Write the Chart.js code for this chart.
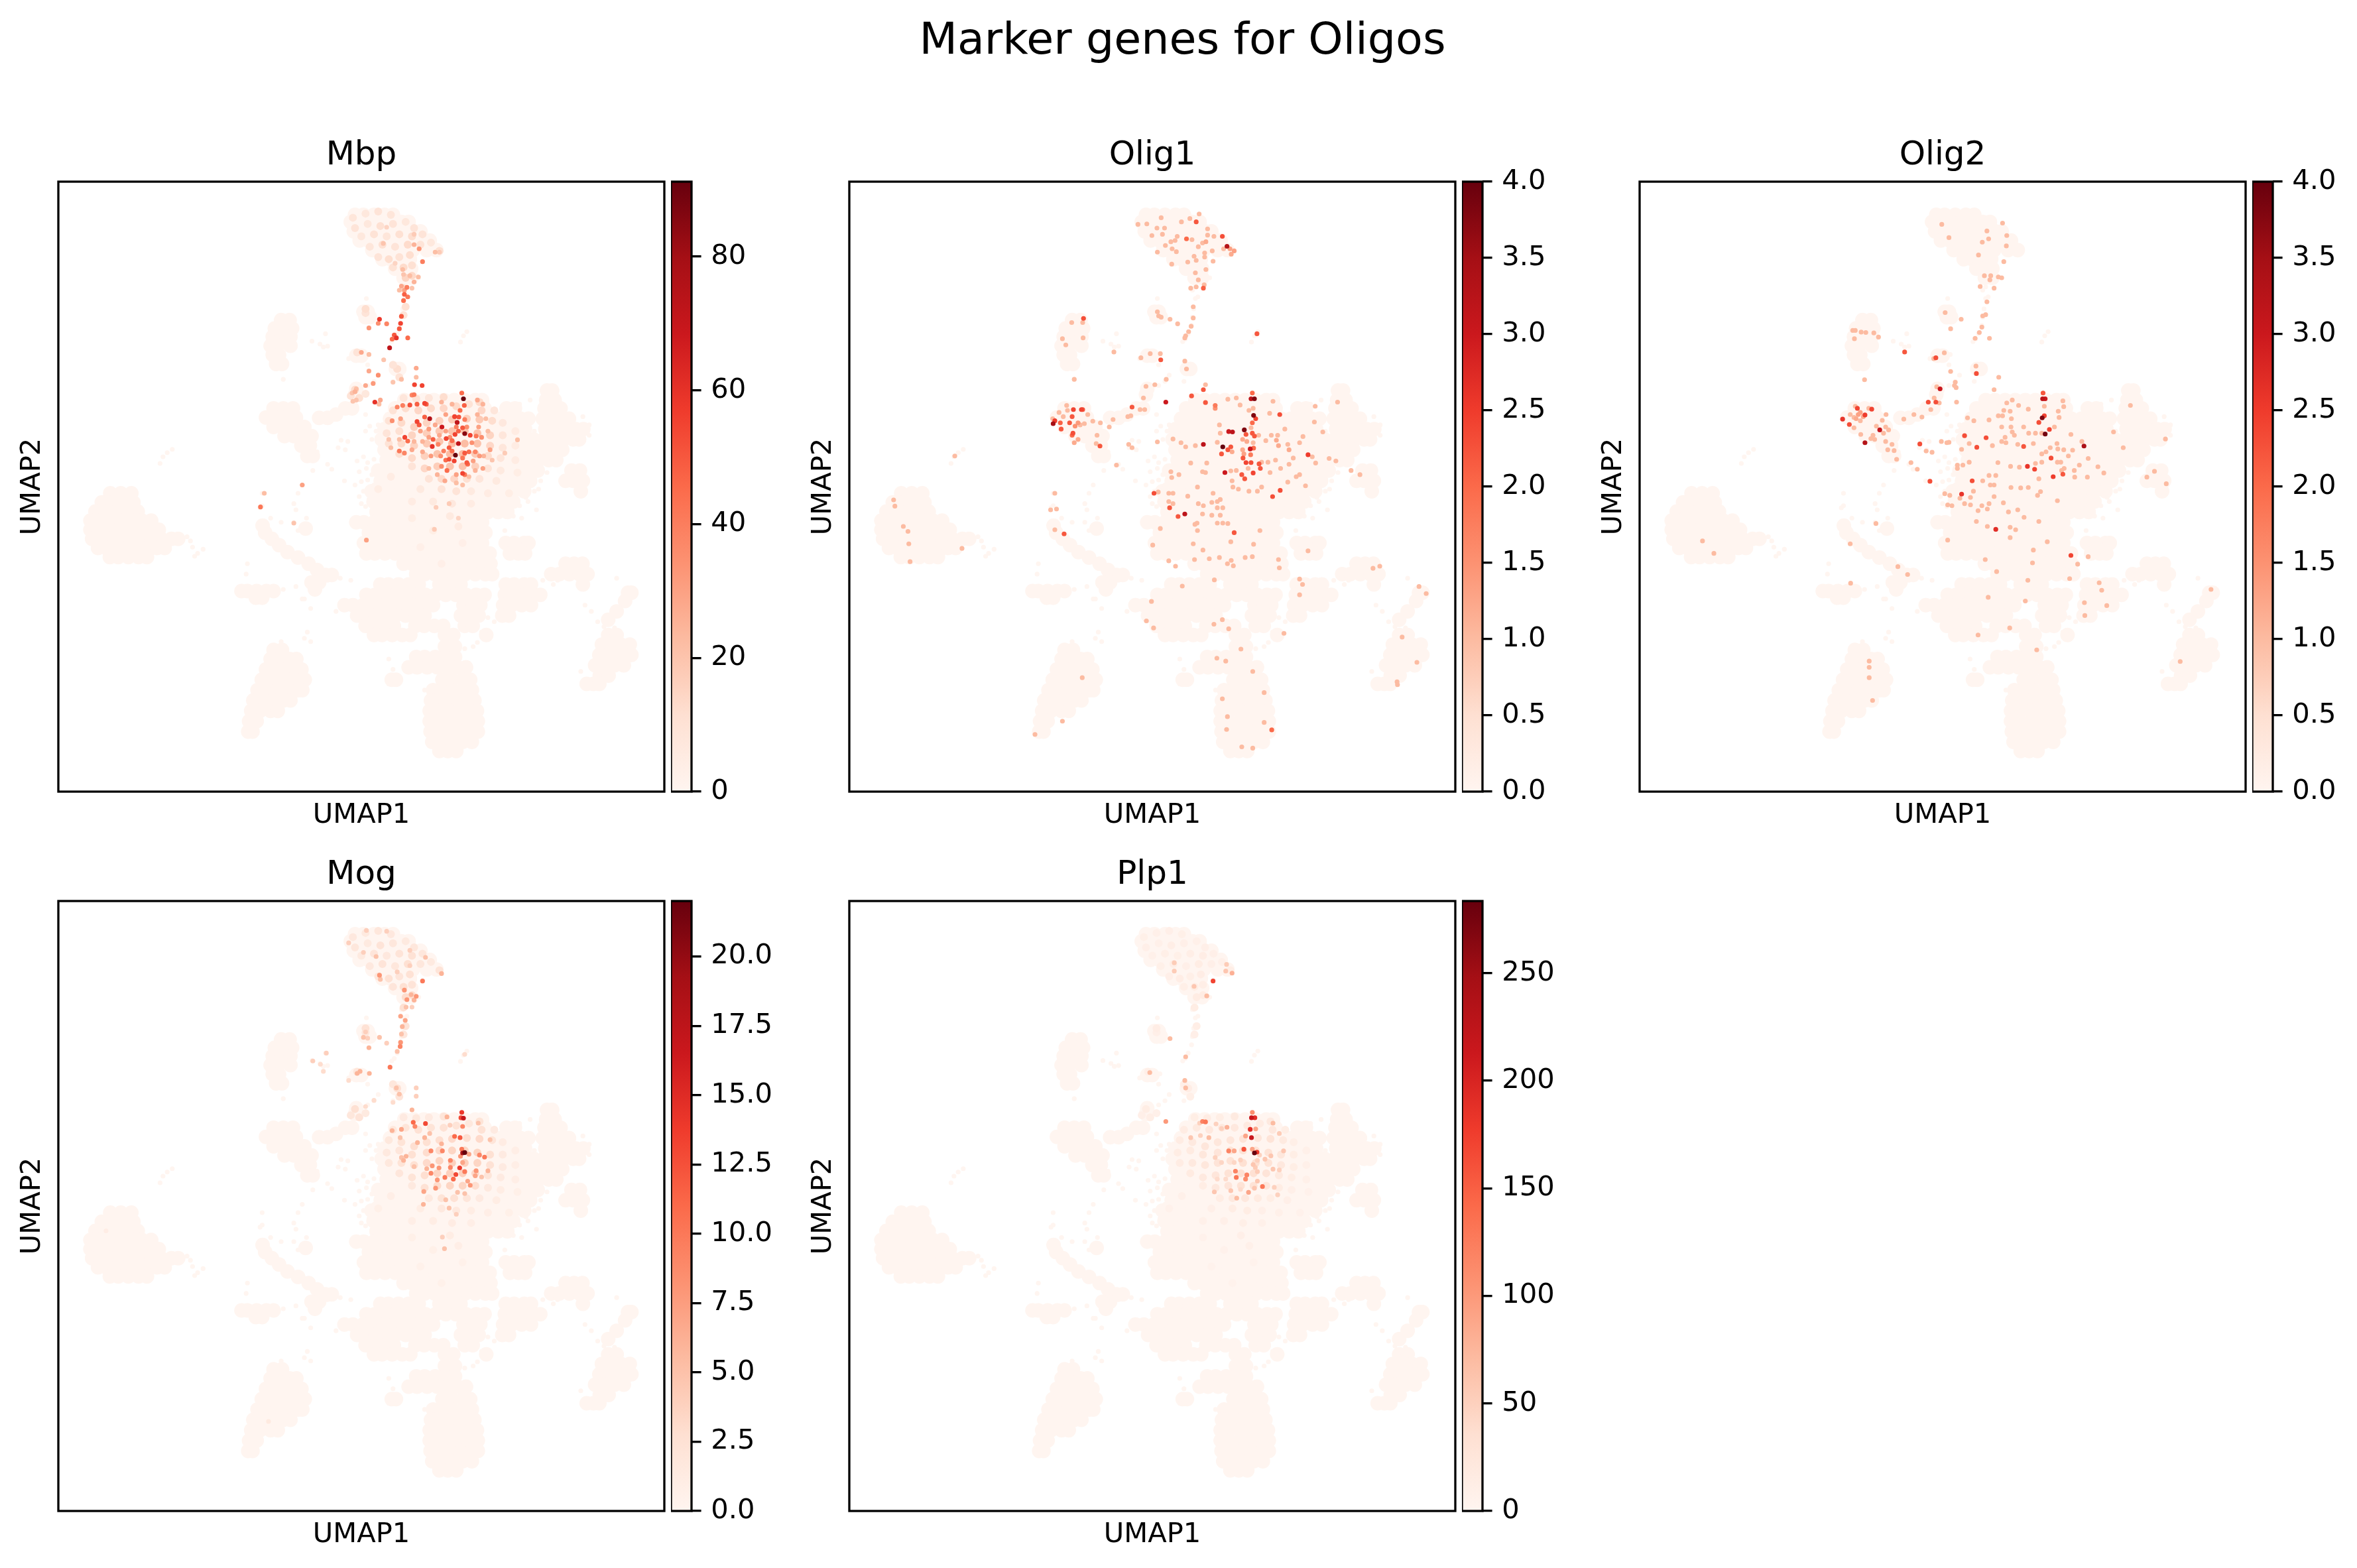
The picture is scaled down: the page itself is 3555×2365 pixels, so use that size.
<!DOCTYPE html>
<html><head><meta charset="utf-8">
<script src="https://cdn.jsdelivr.net/npm/chart.js@4"></script>
<style>html,body{margin:0;padding:0;background:#fff}canvas{position:absolute}</style>
</head><body>
<script>
const figureTitle="Marker genes for Oligos";
const geneNames=["Mbp","Olig1","Olig2","Mog","Plp1"];
const geneMax=[91.2,4,4,22,283.5];
const geneStep=[20,0.5,0.5,2.5,50];
const geneDecimals=[0,1,1,1,0];
const topGain=[1,0,0,0.85,0.35];
const coreGain=[1.1,0,0,0.8,0.55];
const xRange=[42,1478], yRange=[1510,38];
const redsStops=["#fff5f0","#fee0d2","#fcbba1","#fc9272","#fb6a4a","#ef3b2c","#cb181d","#a50f15","#67000d"];

// Broad cell population: [umap2,[umap1...]]
const cloudRows=[
[790,[165,190,215]],[812,[145,170,195,220]],[834,[130,155,180,205,230]],[856,[118,142,168,192,216,240,262]],[878,[118,136,160,184,208,232,256,280]],[900,[122,142,166,190,214,238,262,286,310,326]],[922,[136,156,180,204,228,252,276,294]],[944,[164,184,208,232,252]],
[372,[570,590]],[392,[555,580,596]],[412,[550,570,592]],[434,[545,562,592]],[456,[550,565]],[478,[558,572]],
[352,[765,775]],[365,[770,780]],
[118,[745,765,790,815,835]],[135,[735,755,780,805,830,855,872]],[158,[742,762,787,812,837,862,885,900]],[180,[756,777,802,827,852,877,902,922]],[203,[786,807,832,857,882,915,938]],[225,[810,830,855,875]],[248,[840,860,878]],[270,[860,878]],
[585,[552,575,598]],[607,[534,555,580,605]],[630,[552,575,600,625]],[652,[578,600,625,642]],[675,[618,638]],[700,[632,645]],
[542,[1200,1212]],
[565,[862,884,908,932,956,980,1004,1030,1046,1198,1218]],
[585,[840,860,884,908,932,956,980,1004,1028,1052,1104,1124,1194,1214,1232]],
[610,[828,849,873,897,921,945,969,993,1017,1041,1065,1089,1113,1137,1156,1190,1210,1234,1252]],
[635,[815,836,860,884,908,932,956,980,1004,1028,1052,1076,1100,1124,1148,1196,1220,1244,1268,1286]],
[660,[808,832,856,880,904,928,952,976,1000,1024,1048,1072,1096,1120,1144,1168,1192,1216,1240,1262,1276]],
[685,[815,839,863,887,911,935,959,983,1007,1031,1055,1079,1103,1127,1151,1175,1199,1223,1236]],
[710,[820,844,868,892,916,940,964,988,1012,1036,1060,1084,1108,1132,1156,1180,1204,1222]],
[735,[800,824,848,872,896,920,944,968,992,1016,1040,1064,1088,1112,1136,1160,1178,1258,1278]],
[760,[806,830,854,878,902,926,950,974,998,1022,1046,1070,1094,1118,1142,1160,1244,1262,1285]],
[785,[784,808,832,856,880,904,928,952,976,1000,1024,1048,1072,1096,1120,1146,1280]],
[810,[789,813,837,861,885,909,933,957,981,1005,1029,1053,1077,1101,1120]],
[835,[796,820,844,868,892,916,940,964,988,1012,1036,1060,1084,1106]],
[860,[748,766,790,814,838,862,886,910,934,958,982,1006,1030,1046]],
[885,[778,802,826,850,874,898,922,946,970,994,1018,1042,1054]],
[910,[766,786,810,834,858,882,906,930,954,978,1002,1026,1046,1102,1122,1146,1156]],
[935,[772,792,816,840,864,888,912,936,960,984,1008,1032,1056,1064,1112,1132,1148]],
[960,[860,880,904,928,952,976,1000,1024,1048,1066,1244,1264,1284]],
[985,[890,910,934,958,982,1006,1030,1054,1070,1210,1229,1253,1277,1296]],
[1010,[805,824,848,872,896,945,970,995,1102,1122,1146,1162,1285]],
[1035,[772,792,816,840,864,888,912,936,960,984,1008,1032,1052,1100,1120,1144,1168,1184]],
[1060,[720,740,764,788,812,836,860,884,908,930,1002,1024,1042,1096,1116,1140,1162]],
[1085,[750,769,793,817,841,865,889,910,996,1018,1038,1094,1110]],
[1110,[770,789,813,837,888,909,933,954,1005,1024]],
[1132,[790,809,833,857,876,958,978,1056]],
[1160,[958,982]],[1185,[890,910,935,960,982]],[1210,[872,892,916,940,964,988,1008]],[1240,[832,842,952,975,1000,1018]],
[1265,[930,950,975,1000,1022]],[1290,[925,945,970,995,1020,1028]],[1315,[922,943,968,993,1018,1034]],[1340,[922,943,968,993,1018,1036]],[1365,[924,945,970,995,1020,1036]],[1390,[928,950,975,1000,1022]],[1412,[945,965,985]],
[1168,[552,572]],[1190,[545,565,590,606]],[1215,[534,555,580,605,618]],[1240,[524,545,570,595,620,626]],[1265,[514,535,560,585,610,620]],[1290,[504,525,550,575,592]],[1315,[499,520,545,562]],[1340,[494,512]],[1365,[492,502]],
[1030,[1392,1400]],[1050,[1385]],[1075,[1365]],[1095,[1345]],[1132,[1345,1365]],[1155,[1330,1350,1375,1396]],[1180,[1324,1345,1370,1395,1400]],[1205,[1314,1335,1360,1382]],[1230,[1325,1346]],[1250,[1294,1310,1324]],
[1026,[476,490,512,535,552]],[1042,[510,525]],
[868,[526]],[885,[532]],[900,[548]],[915,[565]],[932,[585]],[945,[610]],[960,[635]],[975,[655]],[987,[675,690]],[1005,[642,660]],[1022,[650]],[875,[628]],
[608,[660,680]],[600,[700]],[585,[722,738]],[538,[748]],[552,[745]],[458,[748,760]],[490,[842,850]]
];
const strayCells=[[283,718],[290,702],[300,692],[312,684],[355,905],[360,920],[372,935],[365,942],[385,925],[347,895],[643,423],[662,430],[675,405],[680,435],[670,437],[575,515],[772,320],[862,292],[855,300],[862,320],[868,316],[858,345],[855,365],[853,385],[845,405],[838,418],[832,424],[896,270],[1010,400],[1002,410],[995,425],[730,465],[778,455],[775,480],[835,520],[775,530],[790,520],[800,505],[645,735],[655,690],[680,720],[690,732],[490,960],[487,985],[575,1022],[620,1045],[525,790],[520,825],[525,820],[620,770],[610,790],[600,815],[605,830],[600,860],[610,880],[630,850],[570,860],[545,850],[720,760],[745,770],[1305,1075],[1365,995],[1280,1220],[1320,1100],[1335,1112],[1360,1115],[1190,1000],[1225,1000],[825,1190],[835,1215],[825,1250],[840,1250],[910,1265],[632,1125],[625,1140],[640,1148],[570,1148],[605,1015],[625,1045],[640,1068],[1290,1060],[1215,1010],[1180,780],[1175,830],[1140,850],[1100,880],[1155,810],[1120,845],[728,665],[705,680],[770,640],[780,628],[770,600],[800,625],[1285,605],[1300,625],[1300,650],[1160,565],[1135,575],[680,1000],[710,995],[735,1000],[1060,1040],[1060,1090],[1075,1100],[1062,1130],[1045,1125],[1035,1150],[1005,1165],[1025,1160],[700,1075],[712,662],[722,685],[785,660],[795,640],[750,712],[765,702],[775,716],[790,708],[755,738],[772,730],[785,745],[760,762],[775,758],[790,770],[765,785],[755,798],[778,805],[770,822],[785,835],[760,815],[1170,640],[1180,655],[1172,720],[1185,705],[1200,740],[1185,760],[1170,785],[1150,800],[1135,820]];

// Faint expression wash over two regions: [umap1,umap2,share of the colour range]
const topHaze=[[740,125,.09],[770,115,.08],[800,110,.1],[830,118,.09],[745,150,.1],[775,140,.08],[805,145,.12],[835,140,.1],[865,135,.08],[885,150,.1],[760,170,.08],[790,165,.11],[820,170,.09],[850,165,.12],[880,170,.13],[905,165,.1],[780,195,.09],[810,190,.12],[840,195,.1],[870,190,.14],[900,190,.1],[925,185,.08],[945,205,.12],[800,220,.1],[825,225,.13],[850,220,.11],[875,215,.13],[835,245,.11],[860,245,.14],[880,240,.12],[865,270,.16],[880,265,.15],[860,295,.14],[865,340,.12],[860,360,.1],[770,355,.1],[770,345,.13],[845,490,.13],[835,480,.1],[850,510,.11],[750,450,.1],[745,540,.14],[755,560,.12],[735,555,.1],[770,550,.08]];
const coreHaze=[[860,560,.08],[890,562,.1],[920,560,.08],[955,558,.12],[1040,570,.13],[1015,575,.1],[835,590,.1],[865,585,.12],[895,590,.14],[925,585,.13],[955,585,.14],[985,580,.13],[1045,590,.14],[1075,590,.08],[825,615,.1],[855,620,.13],[885,630,.16],[915,620,.15],[945,615,.16],[975,612,.18],[1010,610,.16],[1040,612,.18],[1070,615,.12],[1095,620,.07],[820,645,.09],[850,640,.11],[880,650,.15],[915,645,.17],[945,640,.18],[975,640,.2],[1005,640,.2],[1035,645,.2],[1065,650,.15],[1095,650,.08],[1125,640,.05],[825,670,.1],[855,670,.13],[885,675,.15],[915,670,.18],[945,665,.2],[975,670,.22],[1005,670,.22],[1035,670,.2],[1065,675,.14],[1095,680,.08],[1125,675,.05],[850,695,.11],[880,705,.13],[910,700,.16],[940,695,.2],[970,695,.22],[1000,695,.22],[1030,695,.18],[1060,700,.12],[1090,705,.08],[1125,710,.05],[880,725,.09],[910,730,.14],[940,725,.17],[970,725,.2],[1000,725,.2],[1030,725,.16],[1060,730,.09],[1090,735,.06],[1130,740,.04],[920,755,.09],[950,755,.13],[980,755,.14],[1010,755,.11],[1040,755,.08],[1080,760,.06],[900,780,.06],[950,780,.09],[985,785,.09],[1020,785,.06],[1060,790,.05],[1110,790,.04],[880,810,.05],[930,810,.06],[975,815,.07],[1020,815,.05],[970,845,.06],[880,850,.04],[930,880,.04],[990,870,.05],[1000,910,.03],[900,920,.03],[950,960,.03],[830,750,.05],[800,780,.04]];

// Cells with visible signal: [umap1,umap2,value]; each gene
const mbpCells=[[1002,562,91],[983,698,91],[1005,646,85],[990,670,72],[987,619,72],[922,610,75],[951,630,68],[827,439,72],[803,370,58],[792,570,60],[886,528,55],[904,530,55],[855,363,50],[853,380,55],[843,415,60],[838,408,50],[850,393,50],[833,418,45],[862,310,48],[870,316,42],[860,325,45],[868,293,40],[870,415,45],[820,381,38],[800,380,35],[778,391,33],[905,231,40],[897,200,33],[885,190,25],[998,548,45],[1004,578,48],[994,590,45],[981,605,55],[991,606,52],[1005,612,40],[982,648,55],[1018,650,55],[1032,652,42],[1000,632,50],[990,640,48],[961,658,55],[975,663,45],[930,660,48],[928,677,60],[863,655,55],[870,664,45],[850,688,42],[862,693,38],[892,617,55],[897,625,50],[910,606,48],[875,577,52],[892,575,48],[910,573,55],[914,575,48],[858,578,40],[845,582,38],[833,615,35],[853,610,30],[885,552,42],[880,553,38],[1005,693,50],[968,680,50],[975,688,45],[968,708,52],[980,712,55],[960,710,45],[1010,716,50],[1012,720,45],[1000,742,55],[1005,745,42],[963,735,45],[950,725,35],[1048,730,30],[1065,685,30],[1045,655,35],[1022,668,35],[1030,690,38],[1015,690,45],[1000,705,42],[942,672,38],[955,688,40],[948,700,35],[925,700,32],[905,690,28],[880,685,28],[900,640,30],[920,635,32],[935,625,28],[960,600,30],[975,575,25],[950,570,25],[1035,565,28],[1048,575,25],[1035,600,25],[1055,610,22],[1060,640,22],[1038,630,30],[1010,630,35],[985,630,40],[970,655,35],[960,640,30],[945,650,28],[920,655,30],[905,665,25],[885,665,24],[850,660,22],[830,680,22],[825,660,20],[1130,661,22],[1100,693,18],[1070,710,20],[1040,700,32],[1025,712,30],[1030,735,25],[985,745,30],[958,760,28],[940,745,25],[920,730,22],[985,765,22],[968,815,18],[1000,770,22],[1015,750,22],[1050,700,25],[937,824,17],[933,877,18],[772,903,30],[990,850,15],[521,823,42],[530,790,22],[620,770,30],[600,862,20],[745,545,25],[748,538,22],[738,548,20],[770,530,28],[788,525,32],[800,505,35],[778,495,28],[760,450,28],[778,455,22],[890,488,28],[890,510,22],[835,522,20],[855,515,22],[748,565,20],[740,568,20],[805,565,28],[802,575,22],[813,468,20],[812,187,20],[820,148,15],[885,165,18],[935,208,22],[945,208,18],[875,265,22],[860,262,20],[895,268,22],[885,280,25],[858,250,22],[840,235,15],[855,290,28],[862,300,30],[850,300,22],[880,295,20]];
const olig1Cells=[[772,125,1],[717,141,1],[738,140,1],[820,135,1],[855,135,2.2],[862,116,1],[840,127,1],[762,150,1],[780,150,1],[810,170,1],[832,176,2],[845,178,1],[795,183,1],[805,180,1],[782,192,1],[750,168,1],[775,165,1],[882,152,1],[882,167,1],[878,183,1.2],[870,186,1],[860,195,1],[893,205,1],[897,170,1],[917,170,2.3],[928,194,3.3],[920,200,1],[935,200,1.3],[945,205,1.3],[938,213,1.2],[763,208,1],[798,200,1],[808,207,1],[850,218,1],[875,210,1],[875,220,1],[835,232,1],[855,228,1],[895,230,1],[797,237,1],[878,250,1],[853,258,1],[860,275,1],[842,295,1],[855,292,1],[874,287,1],[872,295,2.1],[848,340,1],[763,352,1],[766,362,1],[772,365,1],[793,370,1],[811,381,1],[848,367,1],[843,387,1],[837,400,1],[830,410,1],[828,415,1],[999,405,2.2],[588,368,2.3],[560,378,1],[586,378,1],[587,415,1],[538,417,1],[546,432,1],[660,449,1],[724,463,1],[746,453,1],[770,453,1],[771,468,2.2],[828,471,1],[832,490,1],[566,515,1],[784,515,1],[757,528,1],[736,532,1],[730,560,1],[783,570,3],[877,528,1],[872,540,2.2],[844,555,2.2],[877,571,2.2],[900,578,1.8],[900,585,1.5],[930,563,1],[950,560,1],[959,577,1],[988,548,2],[985,562,3.2],[993,562,3.8],[990,585,1],[980,590,1],[991,602,3.8],[996,610,2.4],[1037,568,1],[1053,600,2.3],[1029,597,1],[1137,580,1],[1190,570,1],[1135,618,1],[1155,642,1],[516,622,3.5],[520,615,2.5],[533,620,2.1],[535,635,2.2],[555,620,2.2],[561,605,2.2],[564,588,2.4],[583,588,2.4],[586,588,2.2],[563,645,2.3],[561,650,2],[575,660,1.2],[566,668,1.2],[618,670,1],[627,676,2.2],[620,650,1],[628,620,1],[610,616,1],[598,600,1],[548,578,1],[530,595,1],[540,605,1],[515,610,1],[575,620,1.4],[568,628,1.5],[580,625,1],[590,622,1],[550,590,1],[658,612,1],[649,630,1],[693,605,1],[700,603,1],[703,582,2.2],[722,588,1],[733,588,1],[695,672,1],[703,680,1],[666,722,1],[763,666,1],[800,659,1],[819,668,1],[830,678,1],[853,675,1],[872,672,3.2],[915,695,2.2],[918,678,4],[930,685,2.2],[937,678,2.2],[940,690,1.2],[905,667,1],[912,645,1],[910,625,1],[932,641,3],[941,642,3.2],[969,637,3.8],[973,648,2.2],[988,620,2],[985,632,1],[988,645,2.2],[993,652,2.2],[1003,650,1],[983,683,3],[991,681,2],[965,660,1.2],[975,665,1.2],[990,668,1],[965,685,1.2],[968,695,1.3],[984,697,1.8],[966,705,2.2],[973,716,2.4],[985,716,2.3],[1004,719,2.2],[1007,730,2.2],[1010,715,1],[990,741,2.4],[923,740,3],[937,736,1],[950,735,1],[963,745,2.2],[970,755,2.2],[978,730,1],[1020,663,1],[1033,650,1],[1048,650,1],[1045,662,1.2],[1050,675,1.2],[1065,635,1],[1072,672,1],[1075,685,1.2],[1100,668,1],[1108,653,1],[1120,697,2.5],[1085,705,1],[1075,720,1],[1043,710,1],[1025,715,1],[1030,740,1],[1055,730,1],[1036,798,2.3],[1054,783,2.3],[1010,775,1],[1000,785,1],[980,785,1],[1072,763,1],[1092,750,1],[1100,745,1],[1114,772,1],[1138,717,1],[1130,702,1],[1170,706,1],[1186,712,1],[1222,735,1],[1243,745,1],[942,775,1],[940,760,1],[955,780,1],[842,717,1],[880,717,1],[877,740,1],[870,738,1],[795,738,1],[797,752,1],[814,745,1],[858,775,1],[755,790,2.3],[765,787,1],[790,790,1],[800,790,1],[835,797,1],[792,825,2.2],[790,810,1],[800,815,1],[812,846,2.2],[828,840,3.2],[860,815,1],[872,820,1],[895,790,1],[892,812,1],[905,810,1],[912,805,1],[918,825,1],[905,825,1],[870,840,1],[892,843,1],[912,843,1],[918,862,1],[905,862,1],[930,863,1],[857,862,1],[852,865,1],[858,880,1],[770,875,1],[945,885,2.2],[1006,880,1],[937,907,1],[991,913,1],[752,915,1],[848,912,1],[871,927,1],[1120,929,1],[790,953,1],[806,966,1],[851,950,1],[886,948,1],[910,945,1],[938,952,1],[929,960,1],[943,965,1],[971,945,1],[988,943,1],[1050,950,1],[1052,970,1],[898,999,1],[1100,997,1],[1107,1010,1],[1100,1035,1],[822,1014,1],[749,1051,1],[737,1098,1],[754,1115,1],[897,1106,1],[917,1095,1],[932,1117,1],[1063,1128,1],[961,1166,1],[904,1188,1],[925,1195,1],[989,1220,1],[1016,1271,1],[917,1286,1],[929,1329,1],[927,1360,1],[1016,1343,1],[1034,1361,2],[963,1402,1],[989,1405,1],[585,1235,1],[538,1340,1],[473,1372,1],[1274,971,1],[1290,966,1],[1383,1015,1],[1400,1032,1],[1343,1137,1],[1378,1198,1],[1331,1245,1],[1332,1252,1],[138,806,1],[141,821,1],[161,870,1],[172,882,1],[174,912,1],[177,955,1],[300,923,1],[283,700,1],[520,790,1],[510,830,1],[524,828,1],[520,878,1],[542,888,2.2]];
const olig2Cells=[[738,141,1],[755,173,1],[845,157,1],[849,176,1],[834,184,1],[882,138,1],[892,168,1],[891,193,1],[825,215,1],[885,231,1],[839,265,1],[854,265,1],[852,275,1],[872,268,1],[880,270,1],[829,291,1],[862,295,1],[845,328,1],[746,354,1],[784,370,1],[842,359,1],[835,362,1],[833,389,1],[827,402,1],[817,416,1],[851,416,1],[759,393,1],[527,397,1],[533,397,1],[547,401,1],[558,402,1],[577,403,1],[588,413,1],[531,417,1],[650,449,2.2],[744,451,1],[719,465,1],[724,463,2.3],[759,496,1],[819,483,1],[820,501,2.3],[873,510,1],[555,516,1],[770,522,1],[768,530,1],[772,535,1],[726,533,1],[734,538,3],[720,560,1],[706,570,2.3],[724,570,2.3],[732,572,1],[773,570,1],[862,540,1],[978,548,2.2],[977,562,3.2],[983,562,3],[981,580,1],[905,565,1],[892,572,1],[920,578,1],[943,587,1],[885,590,1],[900,592,1],[1025,567,1],[1027,581,1],[1014,592,1],[1016,607,1],[976,608,3.8],[981,603,2.4],[968,619,2.3],[993,636,2.4],[983,647,3.9],[975,645,1],[960,645,1],[1005,630,1],[1185,578,1],[503,611,2.6],[519,624,2.3],[538,585,2.4],[533,580,1],[572,587,2.4],[565,585,1],[556,601,2.5],[521,600,1],[540,600,1.3],[545,595,1.3],[552,605,1.2],[535,610,1.2],[545,615,1],[530,607,1],[597,614,1],[606,600,1],[583,628,1],[591,637,3.1],[575,650,1],[570,658,1],[546,648,1],[530,632,1],[556,668,3.3],[579,660,1],[605,665,1],[610,685,1],[620,672,1],[625,687,1],[631,708,1],[605,630,1],[600,645,1],[612,637,1],[648,611,1],[672,600,1],[691,606,1],[712,588,1],[686,671,2.3],[701,688,1],[715,691,1],[665,716,1],[680,732,1],[710,761,2.3],[737,665,1],[750,668,1],[755,667,1],[792,651,2.3],[843,656,2.3],[821,679,2.3],[785,684,1],[803,670,1],[858,675,1],[880,665,1],[888,655,1],[890,668,1],[905,642,1],[910,650,1],[932,630,1],[918,672,1],[932,677,2.2],[955,670,1],[944,645,1],[799,608,1],[814,615,1],[850,613,1],[872,603,1],[882,603,1],[903,610,1],[902,630,1],[880,630,1],[1075,676,3.4],[1070,665,1],[1044,648,1],[1011,670,1],[1013,683,1],[1027,685,1],[1048,686,1],[1038,700,1],[1064,722,1],[1085,706,1],[1168,680,1],[1145,642,1],[1268,659,1],[995,680,1],[985,690,1],[975,695,1],[997,705,2.3],[975,715,1],[960,718,1],[941,725,2.6],[958,732,2.4],[1002,750,2.5],[1025,744,2.2],[1053,751,1],[1083,751,1],[1052,735,1],[1022,735,1],[1012,715,1],[1020,715,1],[1028,730,1],[1108,726,1],[1122,741,1],[1224,751,1],[1242,737,1],[1270,767,1],[871,716,1],[901,725,1],[922,727,1],[803,715,1],[775,722,1],[788,722,1],[775,730,1],[810,760,2.3],[850,747,1],[866,747,1],[835,760,1],[853,770,1],[862,770,1],[902,776,1],[925,777,1],[943,776,1],[972,786,1],[965,795,1],[968,755,1],[1012,808,1],[745,791,1],[757,795,1],[785,792,2.6],[813,785,1],[806,800,1],[781,802,1],[752,818,1],[762,820,1],[792,815,1],[806,818,1],[833,820,1],[850,815,1],[846,828,1],[824,832,1],[862,798,1],[884,813,1],[896,835,1],[918,830,1],[933,848,1],[968,858,1],[820,858,1],[846,870,1],[866,877,2.7],[900,872,1],[913,878,1],[900,897,1],[752,903,1],[988,907,1],[955,927,1],[521,912,1],[582,863,1],[1044,940,2.4],[1085,943,1],[1060,961,1],[953,958,1],[841,950,1],[868,979,1],[942,1000,1],[1041,996,1],[1111,1006,1],[1117,1024,1],[1076,1054,1],[1129,1061,1],[1077,1085,1],[848,1041,1],[936,1050,1],[899,1115,1],[824,1132,1],[963,1168,1],[522,1007,1],[634,967,1],[657,986,1],[566,1195,1],[566,1210,1],[566,1235,1],[574,1290,1],[1303,1196,1],[1376,1022,1],[171,905,1],[198,935,1]];
const mogCells=[[1005,636,22],[1000,637,19],[998,539,14],[1002,553,17],[996,552,13],[912,566,13],[883,563,11],[887,573,9],[981,597,11],[994,600,12],[1000,573,9],[998,628,10],[984,689,13],[993,673,14],[971,672,9],[971,655,9],[958,696,10],[978,700,11],[925,686,9],[928,668,8],[944,673,8],[952,632,9],[925,632,9],[936,722,8],[908,730,7],[907,761,6],[1005,682,10],[1040,642,9],[1052,647,10],[1032,680,8],[1030,692,7],[1018,715,8],[1012,705,7],[995,645,8],[1015,640,7],[1000,660,7],[1005,735,5],[988,732,5],[960,750,5],[968,770,5],[985,785,4],[952,840,4],[957,868,5],[860,655,6],[855,648,5],[866,645,6],[885,670,5],[855,580,7],[833,583,6],[852,600,5],[893,612,6],[910,600,6],[922,590,5],[963,550,6],[970,570,4],[1037,565,5],[1065,605,5],[1060,680,6],[1045,695,5],[940,702,8],[915,675,6],[950,615,6],[880,533,6],[890,500,4],[890,480,4],[843,480,5],[850,495,5],[835,515,3],[790,510,3],[770,525,3],[757,440,6],[750,445,6],[779,445,6],[730,462,3],[778,383,6],[803,358,5],[820,372,4],[770,345,4],[765,358,5],[775,360,4],[853,370,8],[852,380,9],[828,430,10],[845,392,5],[857,332,6],[855,350,5],[864,317,7],[853,307,7],[866,285,5],[880,285,4],[885,268,6],[890,259,8],[868,267,8],[878,255,6],[862,244,8],[905,222,10],[803,208,8],[805,218,5],[950,204,6],[912,165,5],[875,148,4],[795,163,5],[772,100,4],[820,102,4],[730,130,4],[765,153,4],[875,185,4],[845,200,4],[1005,399,3],[677,396,4],[645,415,4],[670,440,3],[663,423,3],[155,825,1],[540,1285,1.5]];
const plp1Cells=[[993,637,283],[999,635,180],[986,552,215],[994,552,190],[988,539,110],[983,580,190],[996,579,90],[986,600,215],[972,596,90],[968,628,160],[988,628,90],[932,632,120],[945,632,90],[948,681,120],[975,690,120],[950,696,130],[972,700,110],[1012,718,130],[979,732,90],[951,746,70],[937,728,60],[898,731,60],[895,222,170],[940,203,80],[925,198,60],[927,182,55],[803,178,55],[803,198,55],[850,235,60],[880,258,70],[793,361,70],[830,405,70],[745,443,70],[828,462,70],[830,480,70],[783,561,100],[870,561,120],[877,562,130],[863,565,50],[902,567,50],[928,575,80],[842,600,60],[885,600,70],[865,595,50],[915,578,50],[1037,565,70],[1052,590,55],[1062,632,60],[1032,644,60],[1037,676,60],[1052,678,50],[1018,652,60],[1005,642,50],[900,648,50],[915,660,45],[945,660,45],[960,654,50],[990,665,60],[995,672,55],[1000,682,55],[1048,738,50],[1040,720,50],[993,722,60],[1000,705,60],[960,725,40],[905,700,40],[925,700,40],[1000,655,50]];
const geneCells=[mbpCells,olig1Cells,olig2Cells,mogCells,plp1Cells];
// reading offset of each gene's crop relative to the shared UMAP frame
const cellOffset=[[0,0],[9,0],[20,0],[0,9],[9,9]];

const colLefts=[88,1281,2473], rowTops=[274,1359];
const axW=914, axH=920, cbGap=10, cbW=31;
const FONT="'DejaVu Sans'", BAR=3.3;

function hex(c){return [1,3,5].map(i=>parseInt(c.substr(i,2),16));}
function reds(t){t=Math.max(0,Math.min(1,t))*8;const i=Math.min(7,Math.floor(t)),f=t-i,a=hex(redsStops[i]),b=hex(redsStops[i+1]);
 return `rgb(${a.map((v,k)=>Math.round(v+(b[k]-v)*f)).join(",")})`;}
const frame={id:"frame",afterDatasetsDraw(c){const a=c.chartArea,x=c.ctx;x.save();x.strokeStyle="#000";x.lineWidth=BAR;x.strokeRect(a.left,a.top,a.right-a.left,a.bottom-a.top);x.restore();}};
function place(l,t,w,h){const c=document.createElement("canvas");c.width=w;c.height=h;c.style.cssText=`left:${l}px;top:${t}px;width:${w}px;height:${h}px`;document.body.appendChild(c);return c.getContext("2d");}
Chart.defaults.font.family=FONT;Chart.defaults.color="#000";Chart.defaults.animation=false;

new Chart(place(0,0,3555+12,140),{type:"scatter",data:{datasets:[]},options:{responsive:false,devicePixelRatio:1,scales:{x:{display:false},y:{display:false}},
 plugins:{legend:{display:false},tooltip:{enabled:false},title:{display:true,text:figureTitle,font:{size:66.67,weight:"normal",lineHeight:1},padding:{top:30,bottom:0}}}}});

const cloudPoints=cloudRows.flatMap(([y,xs])=>xs.map(x=>({x,y})));
const strayPoints=strayCells.map(([x,y])=>({x,y}));

geneNames.forEach((name,i)=>{
 const L=colLefts[i%3],T=rowTops[Math.floor(i/3)],mL=65,mT=65,mB=57,mR=6;
 const [dx,dy]=cellOffset[i];
 const hz=[...topHaze.map(([x,y,t])=>({x,y,t:t*topGain[i]})),...coreHaze.map(([x,y,t])=>({x,y,t:t*coreGain[i]}))];
 const cells=geneCells[i].map(([x,y,v])=>({x:x+dx,y:y+dy,v})).sort((a,b)=>a.v-b.v);
 const base=reds(0);
 const datasets=[
  {order:4,data:cloudPoints,pointRadius:11,pointBackgroundColor:base,pointBorderWidth:0},
  {order:3,data:strayPoints,pointRadius:3.6,pointBackgroundColor:base,pointBorderWidth:0}];
 if(coreGain[i]>0)datasets.push({order:2,data:hz,pointRadius:6,pointBackgroundColor:hz.map(p=>reds(p.t)),pointBorderWidth:0});
 datasets.push({order:1,data:cells,pointRadius:3.6,pointBackgroundColor:cells.map(p=>reds(p.v/geneMax[i])),pointBorderWidth:0});
 new Chart(place(L-mL,T-mT,axW+mL+mR,axH+mT+mB),{type:"scatter",data:{datasets},plugins:[frame],options:{responsive:false,devicePixelRatio:1,
  layout:{autoPadding:false,padding:{left:0,top:0,right:mR,bottom:0}},
  scales:{
   x:{type:"linear",min:xRange[0],max:xRange[1],grid:{display:false},border:{display:false},ticks:{display:false},
      title:{display:true,text:"UMAP1",font:{size:41.67,lineHeight:1},padding:0},afterFit(s){s.height=mB;}},
   y:{type:"linear",min:yRange[1],max:yRange[0],reverse:true,grid:{display:false},border:{display:false},ticks:{display:false},
      title:{display:true,text:"UMAP2",font:{size:41.67,lineHeight:1},padding:{top:5,bottom:0}},afterFit(s){s.width=mL;}}},
  plugins:{legend:{display:false},tooltip:{enabled:false},
   title:{display:true,fullSize:false,text:name,font:{size:50,weight:"normal",lineHeight:1},padding:{top:1,bottom:14}}}}});
 // colour bar
 const cbL=L+axW+cbGap,pad=45;
 new Chart(place(cbL,T-pad,cbW+170,axH+2*pad),{type:"bar",data:{labels:[name],datasets:[{data:[[0,geneMax[i]]],barPercentage:1,categoryPercentage:1,borderWidth:0,
   backgroundColor(ctx){const a=ctx.chart.chartArea;if(!a)return redsStops[4];const g=ctx.chart.ctx.createLinearGradient(0,a.bottom,0,a.top);redsStops.forEach((c,k)=>g.addColorStop(k/8,c));return g;}}]},
  plugins:[frame],options:{responsive:false,devicePixelRatio:1,layout:{autoPadding:false,padding:{top:pad,bottom:pad,left:0,right:0}},
  scales:{x:{display:false},
   y:{position:"right",min:0,max:geneMax[i],grid:{drawOnChartArea:false,drawTicks:true,tickLength:14.6,lineWidth:BAR,color:"#000"},border:{display:false},
      ticks:{stepSize:geneStep[i],includeBounds:false,autoSkip:false,padding:14.6,font:{size:41.67},color:"#000",callback:v=>Number(v).toFixed(geneDecimals[i])},
      afterFit(s){s.width=170;}}},
  plugins:{legend:{display:false},tooltip:{enabled:false},title:{display:false}}}});
});
</script>
</body></html>
